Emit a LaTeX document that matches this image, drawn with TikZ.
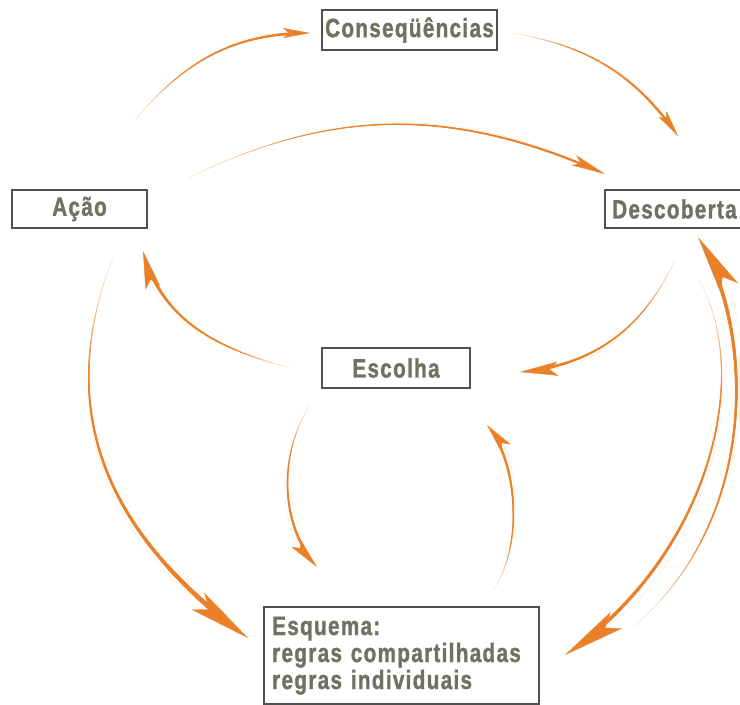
\documentclass[tikz,border=0pt]{standalone}
\usepackage{fontspec}
\newfontfamily\labfont{Liberation Sans}[FakeStretch=0.78, LetterSpace=5, FakeBold=1.2]
\usetikzlibrary{arrows.meta,decorations.markings}
\definecolor{flowc}{RGB}{234,128,40}
\definecolor{labtext}{RGB}{112,112,100}
\definecolor{boxline}{RGB}{80,80,80}
\begin{document}
\begin{tikzpicture}[x=1pt,y=1pt,
  box/.style={draw=boxline, line width=2.4pt, fill=white, text=labtext,
    font=\labfont\bfseries\fontsize{26.5}{27}\selectfont, inner sep=0pt,
    minimum height=38pt},
  % tapered connector: end radius, head length, head width, where the taper stops
  flow/.style n args={4}{draw=flowc!25!white, line width=0.3pt,
    -{Stealth[color=flowc, fill=flowc, line width=0.3pt, length=#2pt, width=#3pt, inset=0.22*#2pt]},
    postaction={decorate, decoration={markings,
    mark=between positions 0 and #4 step 0.5pt with {%
      \pgfmathsetmacro\fr{\pgfkeysvalueof{/pgf/decoration/mark info/distance from start}/\pgfdecoratedpathlength}%
      \pgfmathsetmacro\rr{0.25+(#1-0.25)*\fr}%
      \pgfmathtruncatemacro\pct{min(100,15+300*\fr)}%
      \fill[flowc!\pct!white] (0,0) circle[radius=\rr];}
  }}}
]
\useasboundingbox (0,0) rectangle (740,-705);
\clip (0,0) rectangle (740,-705);

% labelled boxes
\node[box, minimum width=175pt, minimum height=40pt] (cons) at (409.5,-30) {Conseqüências};
\node[box, minimum width=135pt] (acao) at (79.5,-209) {Ação};
\node[box, anchor=west, inner xsep=7pt] (desc) at (604,-209) {Descoberta};
\node[box, minimum width=148pt, minimum height=40pt] (esc) at (396,-368) {Escolha};
\node[box, anchor=north west, minimum width=275pt, minimum height=97pt,
  align=left, text width=259pt, inner xsep=8pt] (esq) at (263,-606)
  {Esquema:\\regras compartilhadas\\regras individuais};

% free ends of the connectors
\coordinate (a1s) at (135,-120);  \coordinate (a1e) at (310,-33);
\coordinate (a2s) at (513,-33);   \coordinate (a2e) at (678,-136);
\coordinate (a3s) at (188,-178);  \coordinate (a3e) at (605,-174);
\coordinate (a4s) at (675,-260);  \coordinate (a4e) at (520,-372);
\coordinate (a5s) at (290,-368);  \coordinate (a5e) at (143,-251);
\coordinate (a6s) at (113,-257);  \coordinate (a6e) at (248,-638);
\coordinate (a7s) at (310,-405);  \coordinate (a7e) at (317,-567);
\coordinate (a8s) at (493,-590);  \coordinate (a8e) at (487,-425);
\coordinate (a9s) at (699,-280);  \coordinate (a9e) at (565,-655);
\coordinate (a10s) at (633,-627); \coordinate (a10e) at (698,-237);

% connectors
\draw[flow={1.5}{27}{10}{-12pt}] (a1s) to[out=50,in=180] (a1e);
\draw[flow={1.5}{27}{10}{-12pt}] (a2s) to[out=-10,in=125] (a2e);
\draw[flow={1.3}{34}{11}{-15pt}] (a3s) to[out=26,in=156] (a3e);
\draw[flow={1.7}{38}{14}{-17pt}] (a4s) to[out=245,in=5] (a4e);
\draw[flow={1.9}{38}{15}{-17pt}] (a5s) to[out=165,in=-75] (a5e);
\draw[flow={2.6}{62}{21}{-28pt}] (a6s) .. controls (50,-420) and (115,-540) .. (a6e);
\draw[flow={1.6}{32}{12}{-14pt}] (a7s) .. controls (278,-455) and (280,-525) .. (a7e);
\draw[flow={1.6}{30}{12}{-13pt}] (a8s) .. controls (522,-550) and (520,-465) .. (a8e);
\draw[flow={2.2}{62}{20}{-28pt}] (a9s) .. controls (755,-380) and (705,-560) .. (a9e);
\draw[flow={2.2}{60}{20}{-27pt}] (a10s) .. controls (760,-520) and (755,-330) .. (a10e);
\end{tikzpicture}
\end{document}
